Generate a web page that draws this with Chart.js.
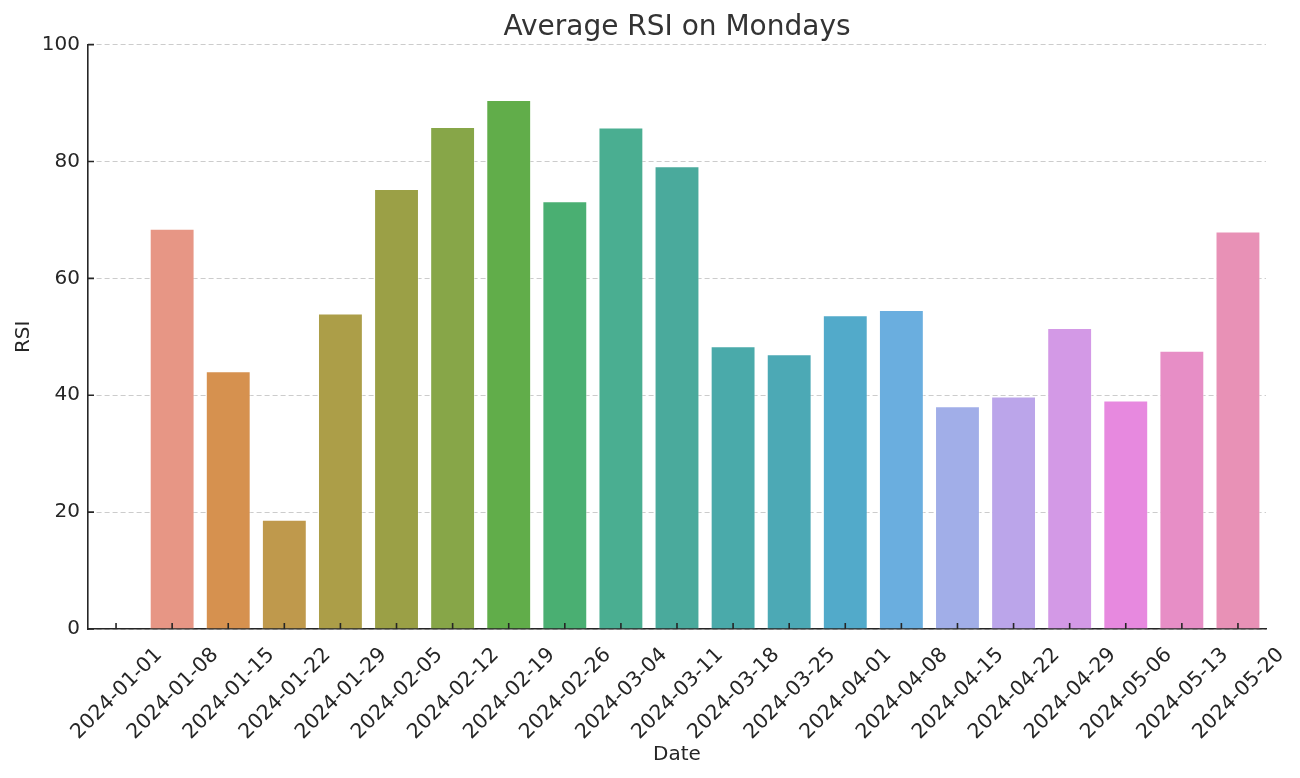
<!DOCTYPE html>
<html>
<head>
    <title>Average RSI on Mondays</title>
    <script src="https://cdn.jsdelivr.net/npm/chart.js"></script>
    <style>
        body { margin: 0; background: #fff; }
        #wrap { width: 1300px; height: 778px; }
    </style>
</head>
<body>
    <div id="wrap"><canvas id="rsiChart" width="1300" height="778"></canvas></div>

    <script>
        const dates = ['2024-01-01', '2024-01-08', '2024-01-15', '2024-01-22', '2024-01-29',
            '2024-02-05', '2024-02-12', '2024-02-19', '2024-02-26', '2024-03-04',
            '2024-03-11', '2024-03-18', '2024-03-25', '2024-04-01', '2024-04-08',
            '2024-04-15', '2024-04-22', '2024-04-29', '2024-05-06', '2024-05-13', '2024-05-20'];
        const rsi = [null, 68.5, 44.1, 18.7, 54.0, 75.3, 85.9, 90.5, 73.2, 85.8,
            79.2, 48.4, 47.0, 53.7, 54.6, 38.1, 39.8, 51.5, 39.1, 47.6, 68.0];
        const barColors = ['#E8928A', '#E79685', '#D6914F', '#BF994C', '#AC9E48',
            '#9BA046', '#87A648', '#61AD4A', '#4AAF72', '#4AAE91',
            '#4AAA9C', '#4AAAAA', '#4CA9B5', '#52AACA', '#6AAEDF',
            '#A1AEE8', '#BBA5EA', '#D399E6', '#E789DF', '#E78EC6', '#E891B6'];
        const yTicks = [0, 20, 40, 60, 80, 100];

        const ink = '#262626';
        const font = 'DejaVu Sans';

        // matplotlib-style inward tick marks
        const inwardTicks = {
            id: 'inwardTicks',
            afterDatasetsDraw(chart) {
                const ctx = chart.ctx;
                const x = chart.scales.x, y = chart.scales.y;
                ctx.save();
                ctx.strokeStyle = ink;
                ctx.lineWidth = 1.6;
                ctx.beginPath();
                x.ticks.forEach((t, i) => {
                    const px = x.getPixelForTick(i);
                    ctx.moveTo(px, y.bottom);
                    ctx.lineTo(px, y.bottom - 6);
                });
                y.ticks.forEach((t, i) => {
                    const py = y.getPixelForTick(i);
                    ctx.moveTo(x.left, py);
                    ctx.lineTo(x.left + 6, py);
                });
                ctx.stroke();
                ctx.restore();
            }
        };

        new Chart(document.getElementById('rsiChart').getContext('2d'), {
            type: 'bar',
            data: {
                labels: dates,
                datasets: [{
                    label: 'RSI',
                    data: rsi,
                    backgroundColor: barColors,
                    borderColor: 'rgba(255,255,255,0.5)',
                    borderWidth: 1,
                    barPercentage: 0.8,
                    categoryPercentage: 1.0
                }]
            },
            options: {
                responsive: false,
                animation: false,
                layout: { padding: { left: 0, right: 34, top: 0, bottom: 0 } },
                plugins: {
                    legend: { display: false },
                    tooltip: { enabled: false },
                    title: {
                        display: true,
                        fullSize: false,
                        text: 'Average RSI on Mondays',
                        color: '#333',
                        font: { family: font, size: 28, weight: 'normal', lineHeight: 1.2 },
                        padding: { top: 11, bottom: 0 }
                    }
                },
                scales: {
                    x: {
                        offset: true,
                        grid: { display: false, drawTicks: false },
                        border: { display: true, color: ink, width: 1.6 },
                        ticks: {
                            color: ink,
                            font: { family: font, size: 20.5 },
                            minRotation: 45,
                            maxRotation: 45,
                            autoSkip: false,
                            padding: 14,
                            labelOffset: 43
                        },
                        title: {
                            display: true,
                            text: 'Date',
                            color: ink,
                            font: { family: font, size: 20 },
                            padding: { top: 0, bottom: 11 }
                        },
                        afterFit(scale) { scale.height = 149; }
                    },
                    y: {
                        min: 0,
                        max: 100,
                        afterBuildTicks(scale) { scale.ticks = yTicks.map(v => ({ value: v })); },
                        grid: {
                            color: 'rgba(170,170,170,0.6)',
                            lineWidth: 1,
                            drawTicks: false
                        },
                        border: { display: true, color: ink, width: 1.6, dash: [5, 3] },
                        ticks: {
                            color: ink,
                            font: { family: font, size: 20 },
                            padding: 8
                        },
                        title: {
                            display: true,
                            text: 'RSI',
                            color: ink,
                            font: { family: font, size: 20 },
                            padding: { top: 12, bottom: 0 }
                        },
                        afterFit(scale) { scale.width = 88; }
                    }
                }
            },
            plugins: [inwardTicks]
        });
    </script>
</body>
</html>
